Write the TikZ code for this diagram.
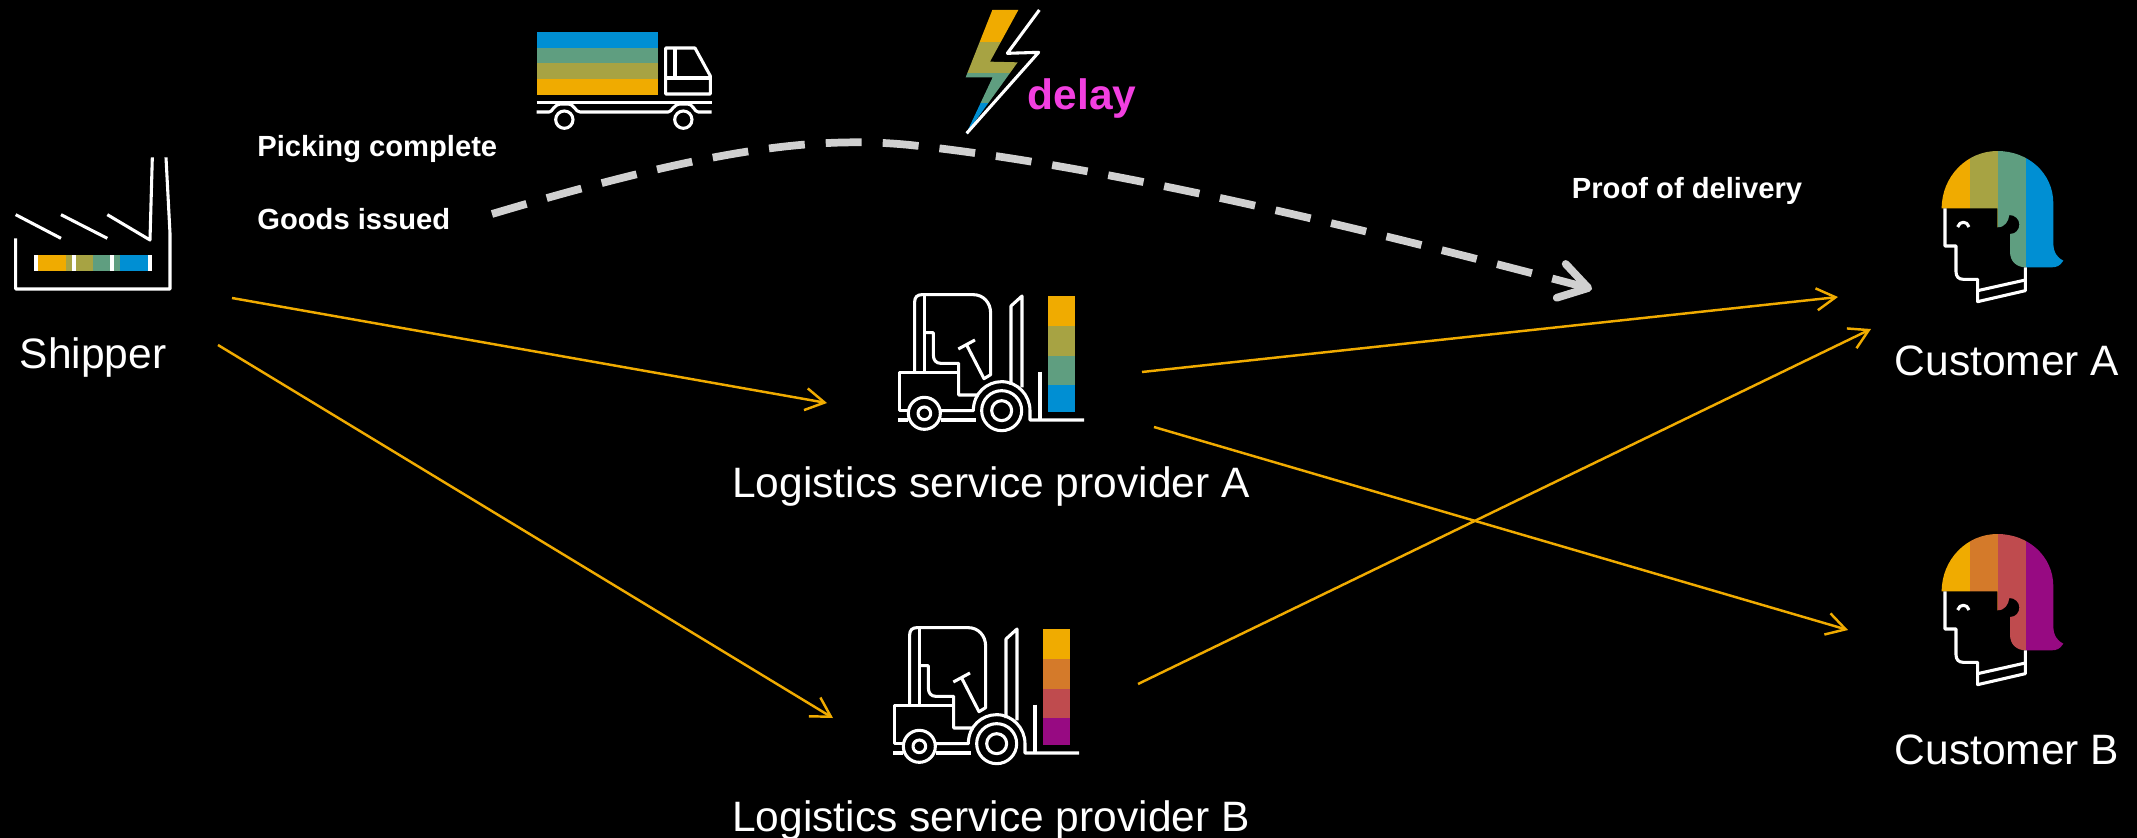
\documentclass[tikz,border=0pt]{standalone}
\usepackage{fontspec}
\setmainfont{Liberation Sans}
\usetikzlibrary{arrows.meta}
\definecolor{amber}{HTML}{F0AB00}
\definecolor{olive}{HTML}{A7A343}
\definecolor{teal}{HTML}{5F9E80}
\definecolor{sky}{HTML}{008FD3}
\definecolor{rust}{HTML}{D47A2A}
\definecolor{rosered}{HTML}{BF4B4E}
\definecolor{plum}{HTML}{970A82}
\definecolor{dashgrey}{HTML}{D0D0D0}
\definecolor{delaypink}{HTML}{F23FE0}
\tikzset{
  icon/.style={x=0.00667cm,y=-0.00667cm},
  iconline/.style={draw=white,line width=1.75pt,line join=round},
  big/.style={text=white,font=\fontsize{24.2}{28}\selectfont,inner sep=0pt},
  small/.style={text=white,font=\fontsize{16.6}{20}\selectfont\bfseries,inner sep=0pt},
  route/.style={draw=amber,line width=1.4pt,-{Straight Barb[length=3.8mm,width=4.4mm,line width=1.4pt]}},
}
% forklift: position, then the four colours of the bar
\newcommand{\forklift}[5]{
\begin{scope}[shift={(#1)},icon]
\fill [#2] (503,49) rectangle (586,138);
\fill [#3] (503,138) rectangle (586,227);
\fill [#4] (503,227) rectangle (586,316);
\fill [#5] (503,316) rectangle (586,396);
\path [iconline] (104,275) -- (104,65) .. controls (104,52) and (112,44) .. (125,44) -- (280,44) .. controls (310,44) and (332,68) .. (332,100) -- (332,284) -- (312,296) -- (260,195);
\path [iconline] (235,207) -- (285,180);
\path [iconline] (133,275) -- (133,44);
\path [iconline] (133,158) -- (160,158) -- (160,225) .. controls (160,240) and (168,250) .. (182,250) -- (236,250) -- (236,345) -- (295,345);
\path [iconline] (236,278) -- (58,278) -- (58,392) -- (85,392);
\path [iconline] (183,392) -- (280,392) .. controls (280,340) and (320,305) .. (365,305) .. controls (412,305) and (450,345) .. (450,392) -- (450,420) -- (612,420);
\path [iconline] (55,420) -- (85,420);
\path [iconline] (183,420) -- (288,420);
\path [iconline] (133,400) circle (48);
\path [iconline] (133,400) circle (19);
\path [iconline] (365,392) circle (60);
\path [iconline] (365,392) circle (30);
\path [iconline] (393,315) -- (393,78) -- (426,48) -- (426,322);
\path [iconline] (480,275) -- (480,420);
\end{scope}
}
% customer head: position, then the four colours of the hair
\newcommand{\customer}[5]{
\begin{scope}[shift={(#1)},icon]
\begin{scope}
\clip (65,205) .. controls (65,110) and (140,33) .. (232,33) .. controls (325,33) and (400,100) .. (400,190) -- (400,310) .. controls (400,340) and (415,355) .. (430,362) .. controls (420,378) and (410,382) .. (395,382) -- (318,382) .. controls (290,382) and (270,365) .. (270,335) -- (270,282) .. controls (288,282) and (298,268) .. (298,253) .. controls (298,238) and (285,225) .. (268,225) .. controls (265,245) and (255,262) .. (232,262) -- (232,205) -- cycle;
\fill [#2] (60,20) rectangle (150,400);
\fill [#3] (150,20) rectangle (233,400);
\fill [#4] (233,20) rectangle (317,400);
\fill [#5] (317,20) rectangle (440,400);
\end{scope}
\path [iconline] (75,205) -- (75,318) -- (108,318) -- (108,395) .. controls (108,410) and (116,418) .. (130,418) -- (173,418) -- (173,485) -- (316,452) -- (316,382);
\path [iconline] (173,452) -- (316,420);
\path [iconline] (113,261) .. controls (118,242) and (142,242) .. (147,261);
\end{scope}
}
\begin{document}
\begin{tikzpicture}[x=0.02cm,y=-0.02cm]
\fill [black] (0,0) rectangle (2137,838);
\useasboundingbox (0,0) rectangle (2137,838);
% factory
\begin{scope}[shift={(0,130)},icon]
\fill [white] (101,375) rectangle (456,424);
\fill [amber] (113,375) rectangle (197,424);
\fill [olive] (197,375) rectangle (215,424);
\fill [olive] (228,375) rectangle (279,424);
\fill [teal] (279,375) rectangle (329,424);
\fill [teal] (342,375) rectangle (360,424);
\fill [sky] (360,375) rectangle (443,424);
\path [iconline] (47,325) -- (47,477) -- (510,477) -- (510,310) -- (498,82);
\path [iconline] (457,82) -- (450,330) -- (322,254);
\path [iconline] (47,254) -- (183,325);
\path [iconline] (183,254) -- (322,325);
\end{scope}
% truck
\begin{scope}[shift={(520,0)},icon]
\fill [sky] (50,97) rectangle (415,144);
\fill [teal] (50,144) rectangle (415,190);
\fill [olive] (50,190) rectangle (415,237);
\fill [amber] (50,237) rectangle (415,284);
\path [iconline] (437,144) -- (525,144) -- (571,228) -- (571,282) -- (437,282) -- cycle;
\path [iconline] (437,234) -- (571,234);
\path [iconline] (465,144) -- (465,234);
\path [iconline] (50,307) -- (575,307);
\path [iconline] (50,336) -- (88,336) .. controls (98,336) and (100,312) .. (125,312) -- (142,312) .. controls (165,312) and (165,336) .. (180,336) -- (445,336) .. controls (455,336) and (460,312) .. (482,312) -- (500,312) .. controls (522,312) and (522,336) .. (535,336) -- (575,336);
\path [iconline] (133,359) circle (26);
\path [iconline] (490,359) circle (26);
\end{scope}
% bolt
\begin{scope}[shift={(950,0)},icon]
\begin{scope}
\clip (127,30) -- (205,30) -- (120,185) -- (203,187) -- (48,402) -- (128,232) -- (47,232) -- cycle;
\fill [amber] (40,20) rectangle (210,125);
\fill [olive] (40,125) rectangle (210,218);
\fill [teal] (40,218) rectangle (210,310);
\fill [sky] (40,310) rectangle (210,410);
\end{scope}
\path [iconline] (268,30) -- (172,160) -- (266,157) -- (50,400);
\end{scope}
\forklift{880,280}{amber}{olive}{teal}{sky}
\forklift{875,613}{amber}{rust}{rosered}{plum}
\customer{1920,140}{amber}{olive}{teal}{sky}
\customer{1920,523}{amber}{rust}{rosered}{plum}
% labels
\node [big] (shipper) at (93,358) {Shipper};
\node [big] (providera) at (991,487) {Logistics service provider A};
\node [big] (providerb) at (991,820) {Logistics service provider B};
\node [big] (customera) at (2007,361) {Customer A};
\node [big] (customerb) at (2007,750) {Customer B};
\node [small,anchor=west] (picking) at (257,149) {Picking complete};
\node [small,anchor=west] (goods) at (257,219) {Goods issued};
\node [small] (proof) at (1687,191) {Proof of delivery};
\node [text=delaypink,inner sep=0pt,font=\fontsize{24.2}{28}\selectfont\bfseries] (delay) at (1082,99) {delay};
% ends of the connectors
\coordinate (shipperup) at (232,298);
\coordinate (shipperdown) at (218,345);
\coordinate (intoa) at (827,403);
\coordinate (intob) at (833,718);
\coordinate (outaup) at (1142,372);
\coordinate (outadown) at (1154,427);
\coordinate (outb) at (1138,684);
\coordinate (tocustaup) at (1838,297);
\coordinate (tocustalow) at (1871,329);
\coordinate (tocustb) at (1848,630);
\coordinate (podend) at (1592,289);
\coordinate (goodsend) at (492,214);
% connectors
\draw [route] (shipperup) -- (intoa);
\draw [route] (shipperdown) -- (intob);
\draw [route] (outaup) -- (tocustaup);
\draw [route] (outadown) -- (tocustb);
\draw [route] (outb) -- (tocustalow);
\draw [draw=dashgrey,line width=4.4pt,dash pattern=on 0.72cm off 0.42cm,-{Straight Barb[length=5.6mm,width=7mm,round,line width=4.4pt]}] (goodsend) .. controls (700,152) and (810,135) .. (910,145) .. controls (1100,165) and (1350,225) .. (podend);
\end{tikzpicture}
\end{document}
